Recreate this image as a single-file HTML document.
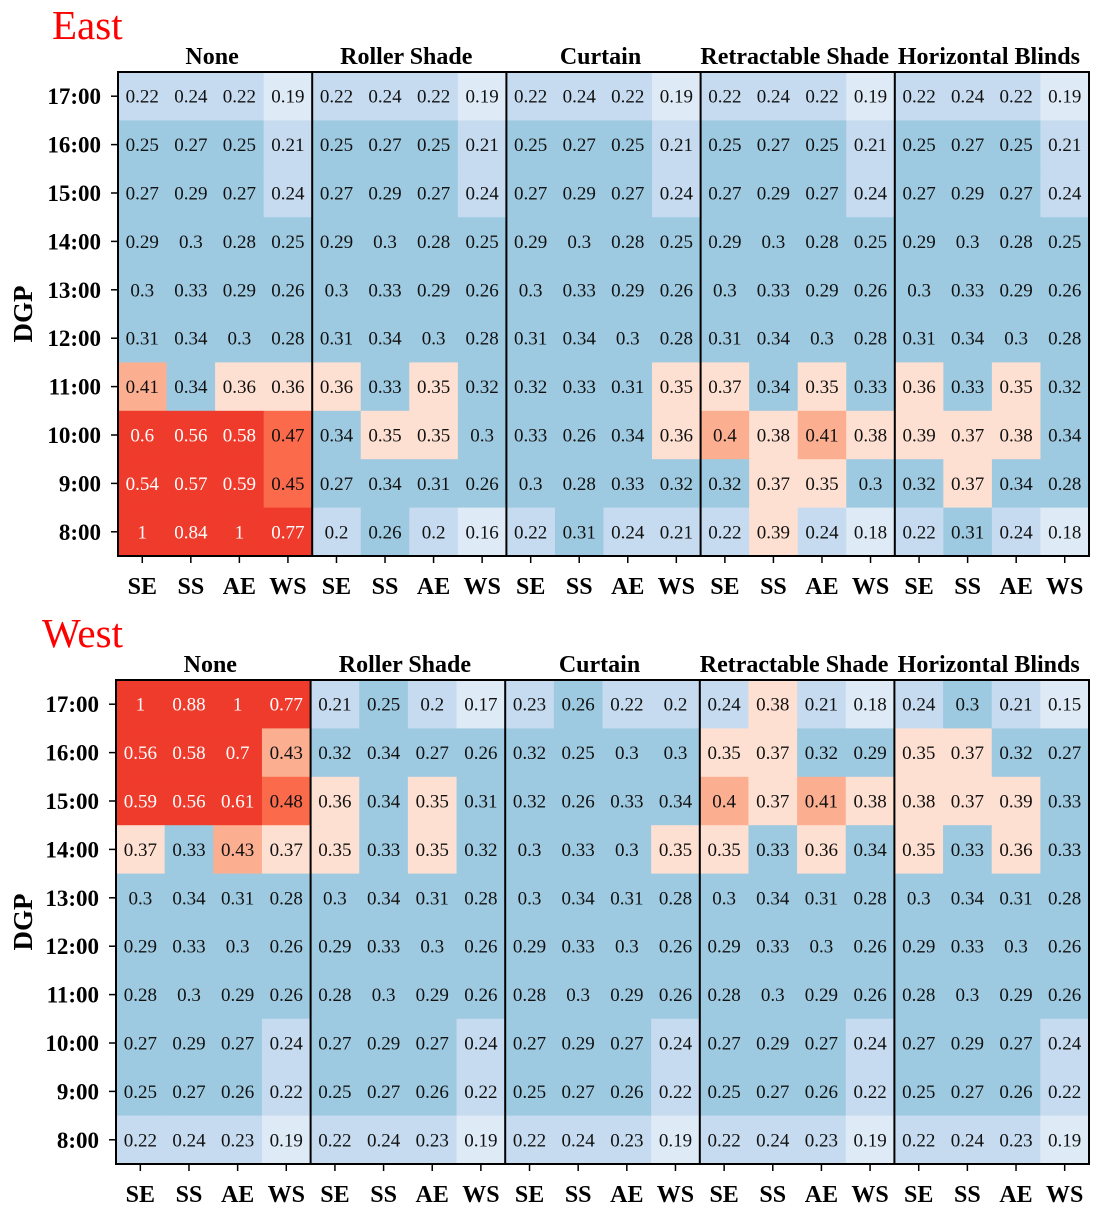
<!DOCTYPE html>
<html><head><meta charset="utf-8"><style>
html,body{margin:0;padding:0;background:#fff;}
svg{display:block;font-family:"Liberation Serif",serif;}
</style></head><body>
<svg id="chart" width="1120" height="1212" viewBox="0 0 1120 1212"></svg>
<script>
const hours = ["17:00","16:00","15:00","14:00","13:00","12:00","11:00","10:00","9:00","8:00"];
const groups = ["None","Roller Shade","Curtain","Retractable Shade","Horizontal Blinds"];
const orients = ["SE","SS","AE","WS"];
const eastValues = [
[0.22,0.24,0.22,0.19, 0.22,0.24,0.22,0.19, 0.22,0.24,0.22,0.19, 0.22,0.24,0.22,0.19, 0.22,0.24,0.22,0.19],
[0.25,0.27,0.25,0.21, 0.25,0.27,0.25,0.21, 0.25,0.27,0.25,0.21, 0.25,0.27,0.25,0.21, 0.25,0.27,0.25,0.21],
[0.27,0.29,0.27,0.24, 0.27,0.29,0.27,0.24, 0.27,0.29,0.27,0.24, 0.27,0.29,0.27,0.24, 0.27,0.29,0.27,0.24],
[0.29,0.3,0.28,0.25, 0.29,0.3,0.28,0.25, 0.29,0.3,0.28,0.25, 0.29,0.3,0.28,0.25, 0.29,0.3,0.28,0.25],
[0.3,0.33,0.29,0.26, 0.3,0.33,0.29,0.26, 0.3,0.33,0.29,0.26, 0.3,0.33,0.29,0.26, 0.3,0.33,0.29,0.26],
[0.31,0.34,0.3,0.28, 0.31,0.34,0.3,0.28, 0.31,0.34,0.3,0.28, 0.31,0.34,0.3,0.28, 0.31,0.34,0.3,0.28],
[0.41,0.34,0.36,0.36, 0.36,0.33,0.35,0.32, 0.32,0.33,0.31,0.35, 0.37,0.34,0.35,0.33, 0.36,0.33,0.35,0.32],
[0.6,0.56,0.58,0.47, 0.34,0.35,0.35,0.3, 0.33,0.26,0.34,0.36, 0.4,0.38,0.41,0.38, 0.39,0.37,0.38,0.34],
[0.54,0.57,0.59,0.45, 0.27,0.34,0.31,0.26, 0.3,0.28,0.33,0.32, 0.32,0.37,0.35,0.3, 0.32,0.37,0.34,0.28],
[1,0.84,1,0.77, 0.2,0.26,0.2,0.16, 0.22,0.31,0.24,0.21, 0.22,0.39,0.24,0.18, 0.22,0.31,0.24,0.18]
];
const westValues = [
[1,0.88,1,0.77, 0.21,0.25,0.2,0.17, 0.23,0.26,0.22,0.2, 0.24,0.38,0.21,0.18, 0.24,0.3,0.21,0.15],
[0.56,0.58,0.7,0.43, 0.32,0.34,0.27,0.26, 0.32,0.25,0.3,0.3, 0.35,0.37,0.32,0.29, 0.35,0.37,0.32,0.27],
[0.59,0.56,0.61,0.48, 0.36,0.34,0.35,0.31, 0.32,0.26,0.33,0.34, 0.4,0.37,0.41,0.38, 0.38,0.37,0.39,0.33],
[0.37,0.33,0.43,0.37, 0.35,0.33,0.35,0.32, 0.3,0.33,0.3,0.35, 0.35,0.33,0.36,0.34, 0.35,0.33,0.36,0.33],
[0.3,0.34,0.31,0.28, 0.3,0.34,0.31,0.28, 0.3,0.34,0.31,0.28, 0.3,0.34,0.31,0.28, 0.3,0.34,0.31,0.28],
[0.29,0.33,0.3,0.26, 0.29,0.33,0.3,0.26, 0.29,0.33,0.3,0.26, 0.29,0.33,0.3,0.26, 0.29,0.33,0.3,0.26],
[0.28,0.3,0.29,0.26, 0.28,0.3,0.29,0.26, 0.28,0.3,0.29,0.26, 0.28,0.3,0.29,0.26, 0.28,0.3,0.29,0.26],
[0.27,0.29,0.27,0.24, 0.27,0.29,0.27,0.24, 0.27,0.29,0.27,0.24, 0.27,0.29,0.27,0.24, 0.27,0.29,0.27,0.24],
[0.25,0.27,0.26,0.22, 0.25,0.27,0.26,0.22, 0.25,0.27,0.26,0.22, 0.25,0.27,0.26,0.22, 0.25,0.27,0.26,0.22],
[0.22,0.24,0.23,0.19, 0.22,0.24,0.23,0.19, 0.22,0.24,0.23,0.19, 0.22,0.24,0.23,0.19, 0.22,0.24,0.23,0.19]
];
const panelTitles = ["East","West"];

const NS = "http://www.w3.org/2000/svg";
const svg = document.getElementById("chart");
function mk(tag, attrs, parent){
  const e = document.createElementNS(NS, tag);
  for (const k in attrs) e.setAttribute(k, attrs[k]);
  (parent||svg).appendChild(e);
  return e;
}
function color(v){
  if (v < 0.2) return "#deebf7";
  if (v < 0.25) return "#c6dbef";
  if (v < 0.35) return "#9ecae1";
  if (v < 0.4) return "#fee0d2";
  if (v < 0.45) return "#fcae91";
  if (v < 0.5) return "#fb6a4a";
  return "#ef3b2c";
}
function drawPanel(values, title, x0, x1, y0, y1, titleX, titleY){
  const g = mk("g", {});
  
  
  const nCols = groups.length * orients.length, nRows = hours.length;
  const cw = (x1 - x0) / nCols, rh = (y1 - y0) / nRows;
  const xs = c => x0 + c * cw, ys = r => y0 + r * rh;
  const t = mk("text", {x: titleX, y: titleY, fill: "#ff0000", "font-size": 41}, g);
  t.textContent = title;
  
  
  values.forEach((row, r) => row.forEach((v, c) => {
    const rect = mk("rect", {x: xs(c), y: ys(r), width: cw + 0.5, height: rh + 0.5, fill: color(v)}, g);
    
    
    const tx = mk("text", {x: xs(c) + cw/2, y: ys(r) + rh/2 + 6.5, "text-anchor": "middle", "font-size": 19, fill: v >= 0.5 ? "#fff" : "#111"}, g);
    tx.textContent = String(v);
    
    
  }));
  for (let k = 1; k < groups.length; k++) {
    const l = mk("line", {x1: xs(k*4), x2: xs(k*4), y1: y0, y2: y1, stroke: "#000", "stroke-width": 2}, g);
    
    
  }
  const frame = mk("rect", {x: x0, y: y0, width: x1 - x0, height: y1 - y0, fill: "none", stroke: "#000", "stroke-width": 2}, g);
  
  
  groups.forEach((gn, k) => {
    const gt = mk("text", {x: xs(k*4) + 2*cw - 3, y: y0 - 8, "text-anchor": "middle", "font-size": 24, "font-weight": "bold"}, g);
    gt.textContent = gn;
    
    
  });
  hours.forEach((h, r) => {
    const yc = ys(r) + rh/2;
    const tk = mk("line", {x1: x0 - 7, x2: x0, y1: yc, y2: yc, stroke: "#000", "stroke-width": 1.5}, g);
    
    
    const lb = mk("text", {x: x0 - 17, y: yc + 8, "text-anchor": "end", "font-size": 23, "font-weight": "bold"}, g);
    lb.textContent = h;
    
    
  });
  for (let c = 0; c < nCols; c++) {
    const xc = xs(c) + cw/2;
    const tk = mk("line", {x1: xc, x2: xc, y1: y1, y2: y1 + 7, stroke: "#000", "stroke-width": 1.5}, g);
    
    
    const lb = mk("text", {x: xc, y: y1 + 38, "text-anchor": "middle", "font-size": 24, "font-weight": "bold"}, g);
    lb.textContent = orients[c % 4];
    
    
  }
  const yt = mk("text", {x: 0, y: 0, transform: `translate(32,${(y0+y1)/2}) rotate(-90)`, "text-anchor": "middle", "font-size": 27, "font-weight": "bold"}, g);
  yt.textContent = "DGP";
  
  
}
drawPanel(eastValues, panelTitles[0], 118, 1089, 72, 556, 52, 39);
drawPanel(westValues, panelTitles[1], 116, 1089, 680, 1164, 42, 647);
</script>
</body></html>
